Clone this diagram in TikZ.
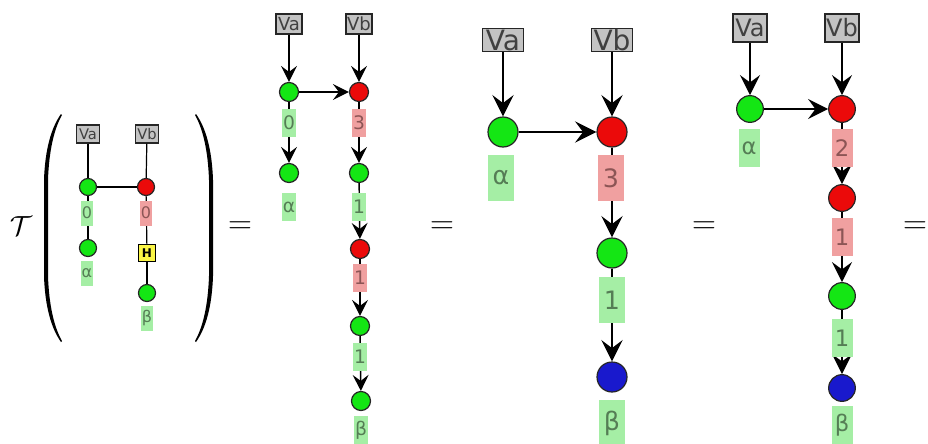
\documentclass[tikz,border=0pt]{standalone}
\usepackage{fontspec}
\usepackage{amsmath, amssymb}
\usetikzlibrary{arrows.meta}
\newfontfamily\labfont{DejaVu Sans}
\newcommand{\labsize}[1]{\fontsize{#1}{#1}\selectfont}

\definecolor{spgreen}{RGB}{20,230,20}
\definecolor{spred}{RGB}{235,10,10}
\definecolor{spblue}{RGB}{25,25,205}
\definecolor{bndgray}{RGB}{195,195,195}
\definecolor{labgreen}{RGB}{165,238,165}
\definecolor{labred}{RGB}{240,160,160}
\definecolor{labgtext}{RGB}{85,125,85}
\definecolor{labrtext}{RGB}{140,85,85}
\definecolor{hyellow}{RGB}{250,245,70}

\tikzset{
  spider/.style={circle, draw=black!85, line width=0.9pt, inner sep=0pt},
  gsp/.style={spider, fill=spgreen},
  rsp/.style={spider, fill=spred},
  bsp/.style={spider, fill=spblue},
  bnd/.style={draw=black!85, line width=0.8pt, fill=bndgray, text=black!75, inner sep=0pt},
  glab/.style={fill=labgreen, text=labgtext, inner sep=0pt},
  rlab/.style={fill=labred, text=labrtext, inner sep=0pt},
  hgate/.style={draw, fill=hyellow, line width=0.8pt, inner sep=0pt, minimum size=12.5pt,
    font=\labfont\bfseries\labsize{9}},
  eqsign/.style={font=\labsize{25}},
}

\begin{document}
\begin{tikzpicture}[x=0.75pt, y=-0.75pt]
    \useasboundingbox (0,0) rectangle (928,443);

    % the map applied to the small diagram
    \node[font=\labsize{21}] (tau) at (21,226) {$\mathcal{T}$};
    \fill (61,114) .. controls (51,128) and (45,150) .. (44,180) -- (44,276)
      .. controls (45,306) and (51,328) .. (61,342) -- (62,341)
      .. controls (54,327) and (49,305) .. (48,276) -- (48,180)
      .. controls (49,151) and (54,129) .. (62,115) -- cycle;
    \fill (196,114) .. controls (206,128) and (212,150) .. (213,180) -- (213,276)
      .. controls (212,306) and (206,328) .. (196,342) -- (195,341)
      .. controls (203,327) and (208,305) .. (209,276) -- (209,180)
      .. controls (208,151) and (203,129) .. (195,115) -- cycle;
    \begin{scope}[dotsz/.style={minimum size=12.75pt},
        boxsz/.style={minimum width=17.25pt, minimum height=13.5pt, font=\labfont\labsize{11}},
        labsz/.style={minimum width=9pt, minimum height=18.75pt, font=\labfont\labsize{12}},
        wire/.style={line width=0.9pt}]
      \node[bnd, boxsz] (va0) at (88,134) {Va};
      \node[bnd, boxsz] (vb0) at (147,134) {Vb};
      \node[gsp, dotsz] (g01) at (88,187) {};
      \node[rsp, dotsz] (r01) at (146,187) {};
      \node[gsp, dotsz] (g02) at (88,248) {};
      \node[hgate] (h0) at (147,253) {H};
      \node[gsp, dotsz] (g03) at (147,293) {};
      \draw[wire] (va0) -- (g01);
      \draw[wire] (vb0) -- (r01);
      \draw[wire] (g01) -- (r01);
      \draw[wire] (g01) -- (g02);
      \draw[wire] (r01) -- (h0);
      \draw[wire] (h0) -- (g03);
      \node[glab, labsz] (lg01) at (87,213) {0};
      \node[rlab, labsz] (lr01) at (146,213) {0};
      \node[glab, labsz] (lg02) at (87,273) {α};
      \node[glab, labsz] (lg03) at (147,318) {β};
    \end{scope}
    \node[eqsign] (eq1) at (240,227.5) {$=$};

    \begin{scope}[dotsz/.style={minimum size=14.25pt},
        boxsz/.style={minimum width=19.5pt, minimum height=15pt, font=\labfont\labsize{13.5}},
        labsz/.style={minimum width=10.5pt, minimum height=21pt, font=\labfont\labsize{14}},
        wire/.style={line width=1.1pt, -{Stealth[length=12pt, width=12pt, inset=4.5pt]}}]
      \node[bnd, boxsz] (va1) at (289,24) {Va};
      \node[bnd, boxsz] (vb1) at (359,24) {Vb};
      \node[gsp, dotsz] (g11) at (289,92) {};
      \node[rsp, dotsz] (r11) at (359,92) {};
      \node[gsp, dotsz] (g12) at (289,173) {};
      \node[gsp, dotsz] (g13) at (359,173) {};
      \node[rsp, dotsz] (r12) at (360,249) {};
      \node[gsp, dotsz] (g14) at (360,326) {};
      \node[gsp, dotsz] (g15) at (361,401) {};
      \draw[wire] (va1) -- (g11);
      \draw[wire] (vb1) -- (r11);
      \draw[wire] (g11) -- (r11);
      \draw[wire] (g11) -- (g12);
      \draw[wire] (r11) -- (g13);
      \draw[wire] (g13) -- (r12);
      \draw[wire] (r12) -- (g14);
      \draw[wire] (g14) -- (g15);
      \node[glab, labsz] (lg11) at (289,123) {0};
      \node[rlab, labsz] (lr11) at (359,123) {3};
      \node[glab, labsz] (lg12) at (289,207) {α};
      \node[glab, labsz] (lg13) at (359,207) {1};
      \node[rlab, labsz] (lr12) at (360,278) {1};
      \node[glab, labsz] (lg14) at (360,357) {1};
      \node[glab, labsz] (lg15) at (361,430) {β};
    \end{scope}
    \node[eqsign] (eq2) at (442,227.5) {$=$};

    \begin{scope}[dotsz/.style={minimum size=22.5pt},
        boxsz/.style={minimum width=30.75pt, minimum height=17.25pt, font=\labfont\labsize{21}},
        labsz/.style={minimum width=19.5pt, minimum height=35pt, font=\labfont\labsize{19}},
        wire/.style={line width=1.5pt, -{Stealth[length=16pt, width=16pt, inset=6pt]}}]
      \node[bnd, boxsz] (va2) at (503,40) {Va};
      \node[bnd, boxsz] (vb2) at (612,40) {Vb};
      \node[gsp, dotsz] (g21) at (503,132) {};
      \node[rsp, dotsz] (r21) at (612,132) {};
      \node[gsp, dotsz] (g22) at (612,253) {};
      \node[bsp, dotsz] (b21) at (612,377) {};
      \draw[wire] (va2) -- (g21);
      \draw[wire] (vb2) -- (r21);
      \draw[wire] (g21) -- (r21);
      \draw[wire] (r21) -- (g22);
      \draw[wire] (g22) -- (b21);
      \node[glab, labsz] (lg21) at (501,178) {α};
      \node[rlab, labsz] (lr21) at (611,178) {3};
      \node[glab, labsz] (lg22) at (612,300) {1};
      \node[glab, labsz] (lb21) at (612,423) {β};
    \end{scope}
    \node[eqsign] (eq3) at (704,227.5) {$=$};

    \begin{scope}[dotsz/.style={minimum size=20pt},
        boxsz/.style={minimum width=25.5pt, minimum height=21pt, font=\labfont\labsize{18}},
        labsz/.style={minimum width=15.75pt, minimum height=28.5pt, font=\labfont\labsize{17}},
        wire/.style={line width=1.1pt, -{Stealth[length=15pt, width=15pt, inset=5.5pt]}}]
      \node[bnd, boxsz] (va3) at (750,28) {Va};
      \node[bnd, boxsz] (vb3) at (842,28) {Vb};
      \node[gsp, dotsz] (g31) at (750,109) {};
      \node[rsp, dotsz] (r31) at (842,109) {};
      \node[rsp, dotsz] (r32) at (842,198) {};
      \node[gsp, dotsz] (g32) at (842,296) {};
      \node[bsp, dotsz] (b31) at (842,388) {};
      \draw[wire] (va3) -- (g31);
      \draw[wire] (vb3) -- (r31);
      \draw[wire] (g31) -- (r31);
      \draw[wire] (r31) -- (r32);
      \draw[wire] (r32) -- (g32);
      \draw[wire] (g32) -- (b31);
      \node[glab, labsz] (lg31) at (749,148) {α};
      \node[rlab, labsz] (lr31) at (842,148) {2};
      \node[rlab, labsz] (lr32) at (842,237) {1};
      \node[glab, labsz] (lg32) at (842,338) {1};
      \node[glab, labsz] (lb31) at (842,425) {β};
    \end{scope}
    \node[eqsign] (eq4) at (915,227.5) {$=$};
\end{tikzpicture}
\end{document}
